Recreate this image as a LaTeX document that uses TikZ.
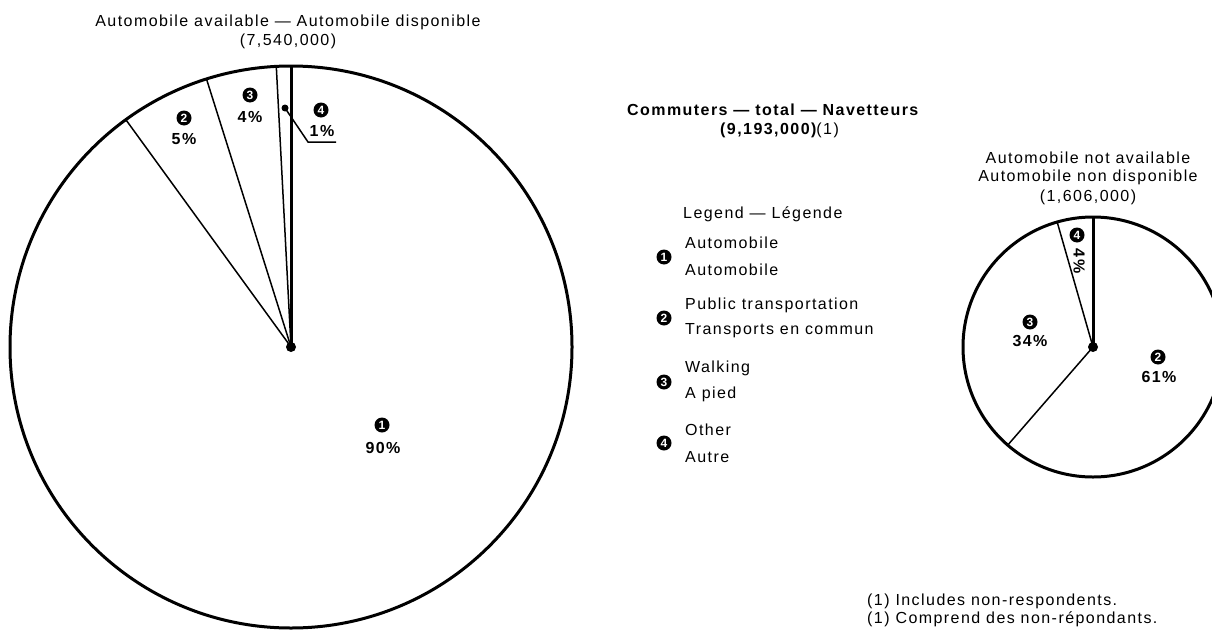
\documentclass[tikz,border=0pt]{standalone}
\usepackage{fontspec}
\setmainfont{Liberation Sans}[LetterSpace=9]
\begin{document}
\begin{tikzpicture}[x=1pt,y=-1pt,
  lbl/.style={font=\fontsize{16}{19}\selectfont, inner sep=0pt},
  blbl/.style={font=\fontsize{16}{19}\selectfont\bfseries, inner sep=0pt},
  numc/.style={circle, fill=black, text=white, inner sep=0pt, minimum size=15pt, font=\fontsize{12}{12}\selectfont\bfseries},
  rim/.style={line width=3pt},
  slice/.style={line width=1.5pt},
  mainslice/.style={line width=3pt},
]
\useasboundingbox (0,0) rectangle (1212,629);
\clip (0,0) rectangle (1212,629);

% ---------- big pie ----------
\coordinate (C1) at (291,347);
\draw[rim] (C1) circle[radius=281];
\path (C1) ++(-90:281) coordinate (r1a);
\path (C1) ++(-93:281) coordinate (r1b);
\path (C1) ++(-107.5:281) coordinate (r1c);
\path (C1) ++(-126:281) coordinate (r1d);
\draw[mainslice] (C1) -- (r1a);
\draw[slice] (C1) -- (r1b);
\draw[slice] (C1) -- (r1c);
\draw[slice] (C1) -- (r1d);
\fill (C1) circle[radius=5];

\node[lbl] (t1a) at (288,22) {Automobile available — Automobile disponible};
\node[lbl] (t1b) at (288,41) {(7,540,000)};

\node[numc] (b2n) at (184,118) {2};
\node[blbl] (b2p) at (184,139) {5\%};
\node[numc] (b3n) at (250,95) {3};
\node[blbl] (b3p) at (250,117) {4\%};
\node[numc] (b4n) at (321,110) {4};
\node[blbl] (b4p) at (322,131) {1\%};
\coordinate (ld0) at (285,108);
\coordinate (ld1) at (308,142);
\coordinate (ld2) at (336,142);
\fill (ld0) circle[radius=3.5];
\draw[slice] (ld0) -- (ld1) -- (ld2);
\node[numc] (b1n) at (382,425) {1};
\node[blbl] (b1p) at (383,448) {90\%};

% ---------- centre texts ----------
\node[blbl, anchor=west] (ct1) at (627,110) {Commuters — total — Navetteurs};
\node[anchor=west, inner sep=0pt] (ct2) at (720,130) {{\fontsize{16}{19}\selectfont\bfseries (9,193,000)}{\fontsize{16}{19}\selectfont(1)}};

\node[lbl, anchor=west] (lg) at (683,214) {Legend — Légende};
\node[lbl, anchor=west] (l1a) at (685,243) {Automobile};
\node[lbl, anchor=west] (l1b) at (685,270) {Automobile};
\node[numc] (l1n) at (664,257) {1};
\node[lbl, anchor=west] (l2a) at (685,305) {Public transportation};
\node[lbl, anchor=west] (l2b) at (685,331) {Transports en commun};
\node[numc] (l2n) at (664,318) {2};
\node[lbl, anchor=west] (l3a) at (685,368) {Walking};
\node[lbl, anchor=west] (l3b) at (685,394) {A pied};
\node[numc] (l3n) at (664,382) {3};
\node[lbl, anchor=west] (l4a) at (685,430) {Other};
\node[lbl, anchor=west] (l4b) at (685,457) {Autre};
\node[numc] (l4n) at (664,443) {4};

% ---------- small pie ----------
\coordinate (C2) at (1093,347);
\draw[rim] (C2) circle[radius=130];
\path (C2) ++(-90:130) coordinate (r2a);
\path (C2) ++(-106:130) coordinate (r2b);
\path (C2) ++(-229:130) coordinate (r2c);
\draw[mainslice] (C2) -- (r2a);
\draw[slice] (C2) -- (r2b);
\draw[slice] (C2) -- (r2c);
\fill (C2) circle[radius=5];

\node[lbl] (t2a) at (1088,158) {Automobile not available};
\node[lbl] (t2b) at (1088,177) {Automobile non disponible};
\node[lbl] (t2c) at (1088,197) {(1,606,000)};

\node[numc] (s4n) at (1077,235) {4};
\node[blbl, rotate=-90] (s4p) at (1079,261) {4\%};
\node[numc] (s3n) at (1030,322) {3};
\node[blbl] (s3p) at (1030,341) {34\%};
\node[numc] (s2n) at (1158,357) {2};
\node[blbl] (s2p) at (1159,377) {61\%};

% ---------- footnote ----------
\node[lbl, anchor=base west] (fn1) at (867,605) {(1) Includes non-respondents.};
\node[lbl, anchor=base west] (fn2) at (867,623) {(1) Comprend des non-répondants.};
\end{tikzpicture}
\end{document}
